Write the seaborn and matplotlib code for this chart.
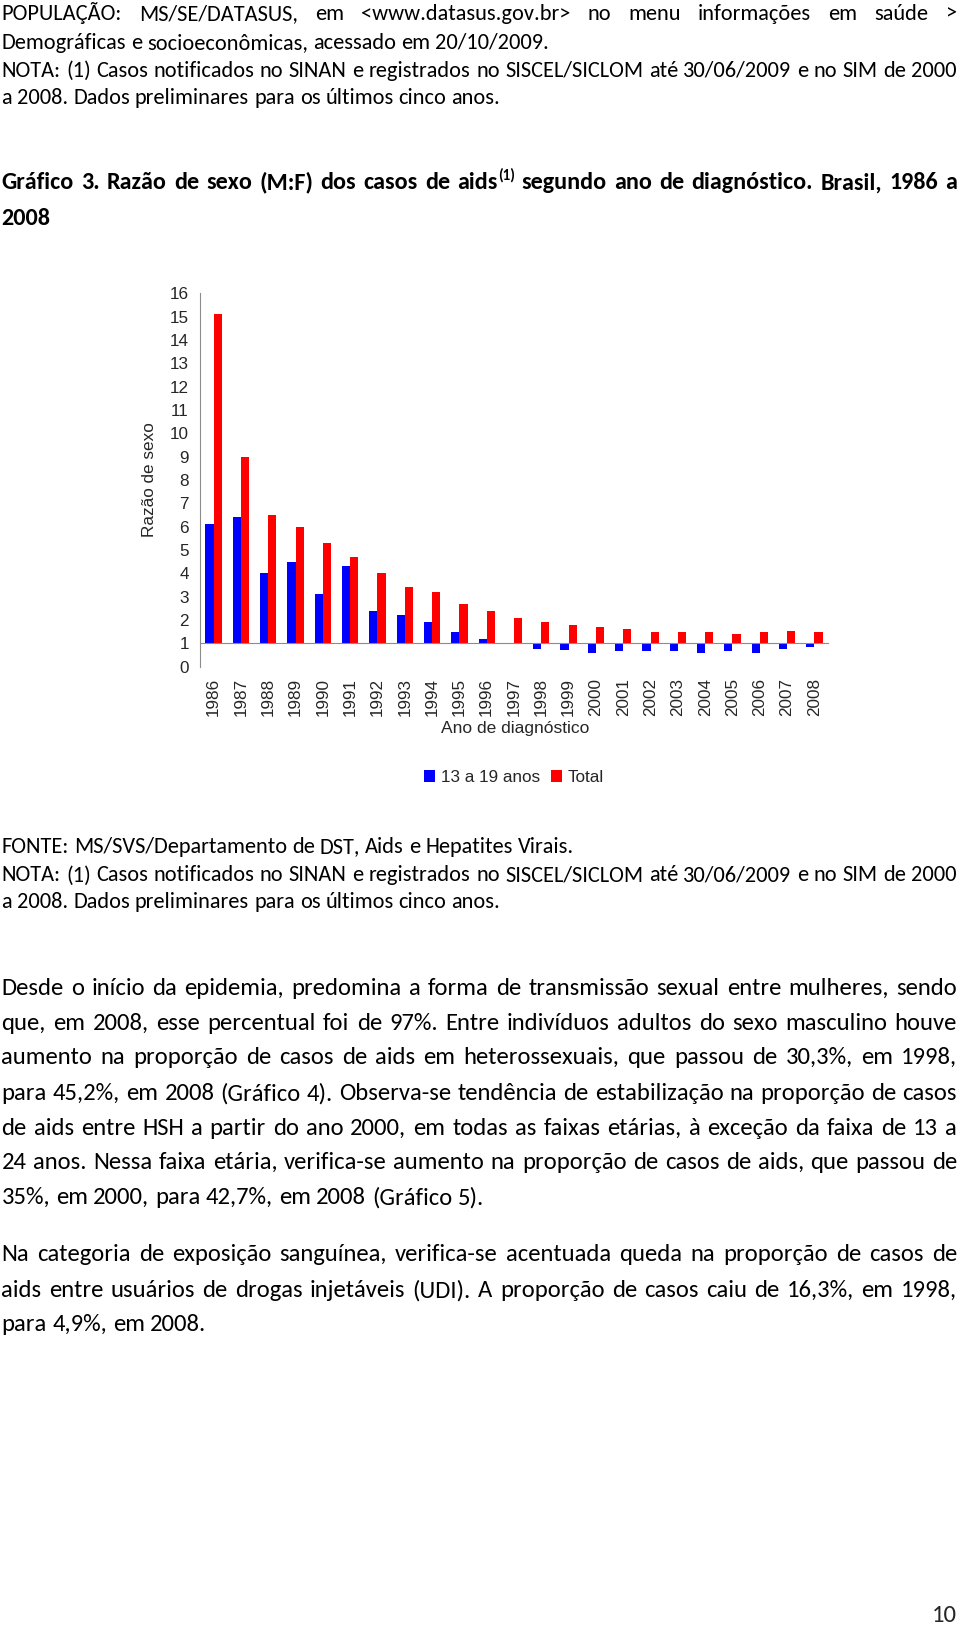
import matplotlib
matplotlib.use("Agg")
import matplotlib.pyplot as plt
from matplotlib import font_manager
from matplotlib.font_manager import FontProperties
from matplotlib.patches import Patch
from matplotlib.ticker import FixedLocator
import seaborn as sns
import pandas as pd

# ---------------- data ----------------
years = [str(y) for y in range(1986, 2009)]
ratio_13_19 = [6.1, 6.4, 4.0, 4.5, 3.1, 4.3, 2.4, 2.2, 1.9, 1.5, 1.2, 0.97,
               0.77, 0.7, 0.6, 0.66, 0.66, 0.66, 0.6, 0.66, 0.6, 0.77, 0.83]
ratio_total = [15.1, 9.0, 6.5, 6.0, 5.3, 4.7, 4.0, 3.4, 3.2, 2.7, 2.4, 2.1,
               1.9, 1.8, 1.7, 1.6, 1.5, 1.5, 1.5, 1.4, 1.5, 1.55, 1.5]
series_names = ["13 a 19 anos", "Total"]
series_colors = ["#0000FF", "#FF0000"]
y_ticks = list(range(0, 17))
baseline_ratio = 1.0  # axis drawn at ratio 1 (M = F)

df = pd.DataFrame({
    "ano": years * 2,
    "serie": [series_names[0]] * len(years) + [series_names[1]] * len(years),
    "razao": ratio_13_19 + ratio_total,
})
df["desvio"] = df["razao"] - baseline_ratio

# ---------------- fonts ----------------
def pick(cands):
    for c in cands:
        try:
            font_manager.findfont(FontProperties(family=c), fallback_to_default=False)
            return c
        except Exception:
            pass
    return "DejaVu Sans"

sns.set_style("white")
body_font = pick(["Carlito", "Calibri", "Lato", "Open Sans"])
chart_font = pick(["Liberation Sans", "Arial", "DejaVu Sans"])
plt.rcParams["font.family"] = [chart_font]

W, H = 960, 1625
fig = plt.figure(figsize=(W / 100, H / 100), dpi=100)
fig.patch.set_facecolor("white")
renderer = fig.canvas.get_renderer()

# ---------------- chart ----------------
left_px, right_px, top_px, bot_px = 200, 828, 293.3, 666.7
ax = fig.add_axes([left_px / W, 1 - bot_px / H, (right_px - left_px) / W, (bot_px - top_px) / H])
sns.barplot(data=df, x="ano", y="desvio", hue="serie", palette=series_colors,
            width=0.6, saturation=1, linewidth=0, ax=ax, legend=False)
for cont in ax.containers:
    for bar in cont:
        bar.set_y(bar.get_y() + baseline_ratio)

ax.set_ylim(0, 16)
ax.set_xlim(-0.5, len(years) - 0.5)
ax.set_yticks(y_ticks)
ax.set_yticklabels([str(t) for t in y_ticks], fontsize=12.3)
gray = "#8c8c8c"
for s in ["top", "right"]:
    ax.spines[s].set_visible(False)
ax.spines["left"].set_color(gray)
ax.spines["bottom"].set_color(gray)
ax.spines["bottom"].set_position(("data", baseline_ratio))
ax.tick_params(axis="y", length=5, color=gray, width=1, labelsize=12.3, pad=3, direction="out")
ax.xaxis.set_minor_locator(FixedLocator([i - 0.5 for i in range(len(years) + 1)]))
ax.tick_params(axis="x", which="major", length=0, pad=25, labelsize=12.3, labelrotation=90)
ax.tick_params(axis="x", which="minor", length=5, color=gray, width=1, direction="out")
for lab in ax.get_xticklabels():
    lab.set_va("top")
ax.set_xlabel("")
ax.set_ylabel("Razão de sexo", fontsize=12.3)
ax.yaxis.set_label_coords((157 - left_px) / (right_px - left_px), 0.5)
fig.text(515 / W, 1 - 729 / H, "Ano de diagnóstico", fontsize=12.5, ha="center", va="center")

handles = [Patch(facecolor=c, edgecolor="none") for c in series_colors]
fig.legend(handles, series_names, loc="center", bbox_to_anchor=(514 / W, 1 - 777.5 / H),
           bbox_transform=fig.transFigure, ncol=2, frameon=False, fontsize=12.3,
           handlelength=0.66, handleheight=0.66, handletextpad=0.35, columnspacing=0.6,
           borderpad=0, borderaxespad=0)

# ---------------- page text ----------------
X0, X1 = 1.5, 957.0

def fp_of(size, bold=False):
    return FontProperties(family=body_font, size=size,
                          weight="bold" if bold else "normal")

def width(s, fp):
    t = fig.text(0, 0, s, fontproperties=fp)
    w = t.get_window_extent(renderer).width
    t.remove()
    return w

def space_w(fp):
    return width("a a", fp) - width("aa", fp)

def fit_size(s, target, bold=False):
    return 10 * target / width(s, fp_of(10, bold))

def draw_line(words, yc, size, justify, bold=False):
    # words: list of strings or list of segment lists [(text, scale, dy_em)]
    fp = fp_of(size, bold)
    em = size * 100 / 72
    base = yc + 0.33 * em
    segs_list = []
    for w in words:
        segs = w if isinstance(w, list) else [(w, 1.0, 0.0)]
        segs_list.append(segs)
    wlen = []
    for segs in segs_list:
        wlen.append(sum(width(t, fp_of(size * sc, bold)) for t, sc, dy in segs))
    if justify and len(words) > 1:
        gap = (X1 - X0 - sum(wlen)) / (len(words) - 1)
    else:
        gap = space_w(fp)
    x = X0
    for segs, wl in zip(segs_list, wlen):
        xx = x
        for t, sc, dy in segs:
            f = fp_of(size * sc, bold)
            fig.text(xx / W, 1 - (base + dy * em) / H, t, fontproperties=f,
                     ha="left", va="baseline", color="black")
            xx += width(t, f)
        x += wl + gap

top_size = fit_size("Demográficas e socioeconômicas, acessado em 20/10/2009.", 548)
para_size = fit_size("35%, em 2000, para 42,7%, em 2008 (Gráfico 5).", 482)

top_lines = [
    ("POPULAÇÃO: MS/SE/DATASUS, em <www.datasus.gov.br> no menu informações em saúde >", True, 12.4),
    ("Demográficas e socioeconômicas, acessado em 20/10/2009.", False, 41.5),
    ("NOTA: (1) Casos notificados no SINAN e registrados no SISCEL/SICLOM até 30/06/2009 e no SIM de 2000", True, 69.5),
    ("a 2008. Dados preliminares para os últimos cinco anos.", False, 96.4),
]
for s, j, y in top_lines:
    draw_line(s.split(" "), y, top_size, j)

title_words = ("Gráfico 3. Razão de sexo (M:F) dos casos de AIDS segundo ano de diagnóstico. "
               "Brasil, 1986 a").split(" ")
title_words = [[("aids", 1.0, 0.0), ("(1)", 0.62, -0.42)] if w == "AIDS" else w for w in title_words]
title_size = para_size
nat = sum(width(w if isinstance(w, str) else "aids(1)", fp_of(title_size, True)) for w in title_words)
nat += space_w(fp_of(title_size, True)) * (len(title_words) - 1)
if nat > (X1 - X0) * 0.985:
    title_size *= (X1 - X0) * 0.985 / nat
draw_line(title_words, 181.4, title_size, True, bold=True)
draw_line(["2008"], 216.7, title_size, False, bold=True)

fonte_lines = [
    ("FONTE: MS/SVS/Departamento de DST, Aids e Hepatites Virais.", False, 846),
    ("NOTA: (1) Casos notificados no SINAN e registrados no SISCEL/SICLOM até 30/06/2009 e no SIM de 2000", True, 874),
    ("a 2008. Dados preliminares para os últimos cinco anos.", False, 901),
]
for s, j, y in fonte_lines:
    draw_line(s.split(" "), y, top_size, j)

para1 = [
    "Desde o início da epidemia, predomina a forma de transmissão sexual entre mulheres, sendo",
    "que, em 2008, esse percentual foi de 97%. Entre indivíduos adultos do sexo masculino houve",
    "aumento na proporção de casos de aids em heterossexuais, que passou de 30,3%, em 1998,",
    "para 45,2%, em 2008 (Gráfico 4). Observa-se tendência de estabilização na proporção de casos",
    "de aids entre HSH a partir do ano 2000, em todas as faixas etárias, à exceção da faixa de 13 a",
    "24 anos. Nessa faixa etária, verifica-se aumento na proporção de casos de aids, que passou de",
    "35%, em 2000, para 42,7%, em 2008 (Gráfico 5).",
]
para1_y = [987, 1022, 1056, 1092, 1127, 1161, 1196]
for i, (s, y) in enumerate(zip(para1, para1_y)):
    draw_line(s.split(" "), y, para_size, i < len(para1) - 1)

para2 = [
    "Na categoria de exposição sanguínea, verifica-se acentuada queda na proporção de casos de",
    "aids entre usuários de drogas injetáveis (UDI). A proporção de casos caiu de 16,3%, em 1998,",
    "para 4,9%, em 2008.",
]
para2_y = [1253, 1289, 1323]
for i, (s, y) in enumerate(zip(para2, para2_y)):
    draw_line(s.split(" "), y, para_size, i < len(para2) - 1)

fig.text(957 / W, 1 - (1614 + 0.33 * para_size * 100 / 72) / H, "10",
         fontproperties=fp_of(para_size), ha="right", va="baseline")

fig.savefig("out.png", dpi=100, facecolor="white")
